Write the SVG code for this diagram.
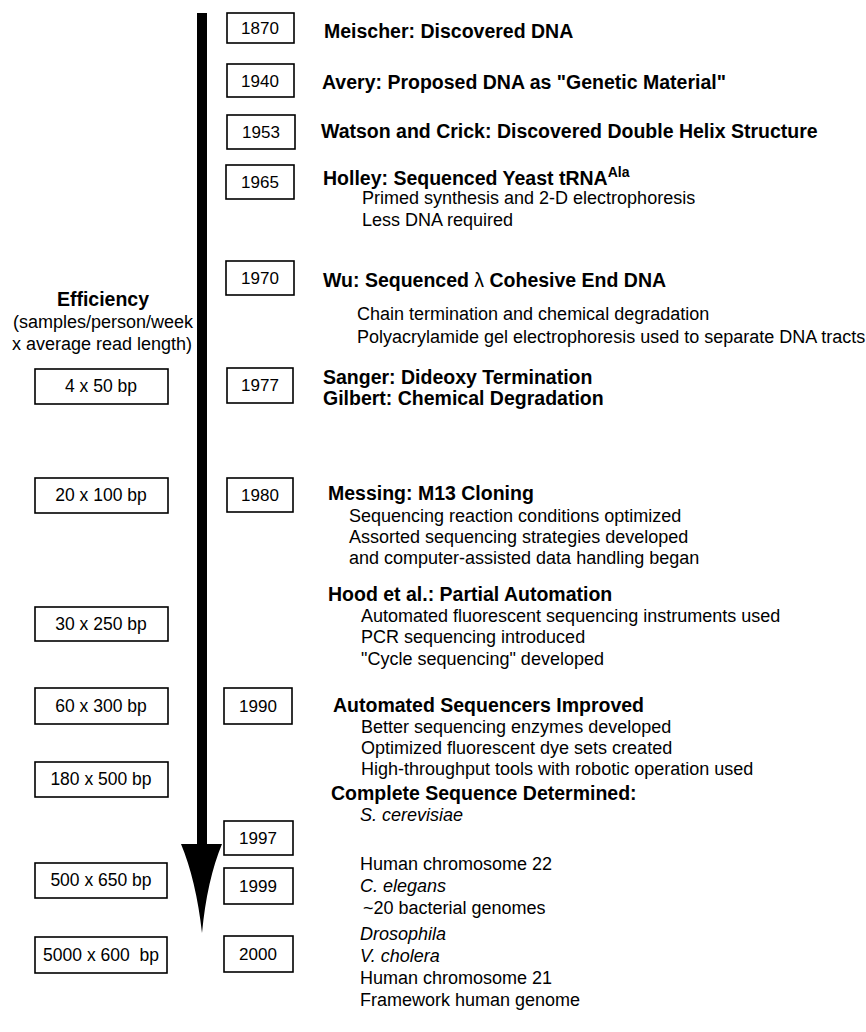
<svg xmlns="http://www.w3.org/2000/svg" width="866" height="1032" viewBox="0 0 866 1032">
<style>
.box{fill:#fff;stroke:#000;stroke-width:1.6}
.yr{font-family:"Liberation Sans",Arial,sans-serif;font-size:17px;text-anchor:middle;fill:#000}
.ef{font-family:"Liberation Sans",Arial,sans-serif;font-size:17.5px;text-anchor:middle;fill:#000;white-space:pre}
.h{font-family:"Liberation Sans",Arial,sans-serif;font-size:19.5px;font-weight:bold;fill:#000}
.b{font-family:"Liberation Sans",Arial,sans-serif;font-size:18px;fill:#000}
.i{font-style:italic}
</style>
<rect width="866" height="1032" fill="#fff"/>
<g id="connectors">
<rect x="197" y="13" width="10" height="834" fill="#000"/>
<path d="M181,844 L222,844 Q207,880 202,933 Q196,880 181,844 Z" fill="#000"/>
</g>
<g id="efficiency-label">
<text class="h" x="103" y="306" text-anchor="middle">Efficiency</text>
<text class="b" x="103" y="328" text-anchor="middle">(samples/person/week</text>
<text class="b" x="102" y="350" text-anchor="middle">x average read length)</text>
</g>
<g id="eff-4x50"><rect class="box" x="35" y="369" width="133" height="35"/><text class="ef" x="101" y="392">4 x 50 bp</text></g>
<g id="eff-20x100"><rect class="box" x="35" y="478" width="133" height="35"/><text class="ef" x="101" y="501">20 x 100 bp</text></g>
<g id="eff-30x250"><rect class="box" x="35" y="607" width="133" height="34"/><text class="ef" x="101" y="630">30 x 250 bp</text></g>
<g id="eff-60x300"><rect class="box" x="35" y="688" width="133" height="36"/><text class="ef" x="101" y="712">60 x 300 bp</text></g>
<g id="eff-180x500"><rect class="box" x="35" y="762" width="133" height="35"/><text class="ef" x="101" y="785">180 x 500 bp</text></g>
<g id="eff-500x650"><rect class="box" x="35" y="863" width="132" height="35"/><text class="ef" x="101" y="886">500 x 650 bp</text></g>
<g id="eff-5000x600"><rect class="box" x="35" y="937" width="132" height="36"/><text class="ef" x="101" y="961">5000 x 600  bp</text></g>
<g id="y1870"><rect class="box" x="227" y="13" width="67" height="30"/><text class="yr" x="260" y="34">1870</text></g>
<g id="y1940"><rect class="box" x="227" y="64" width="67" height="33"/><text class="yr" x="260" y="87">1940</text></g>
<g id="y1953"><rect class="box" x="227" y="115" width="68" height="34"/><text class="yr" x="261" y="138">1953</text></g>
<g id="y1965"><rect class="box" x="226" y="165" width="68" height="34"/><text class="yr" x="260" y="188">1965</text></g>
<g id="y1970"><rect class="box" x="226" y="261" width="68" height="34"/><text class="yr" x="260" y="284">1970</text></g>
<g id="y1977"><rect class="box" x="227" y="368" width="66" height="35"/><text class="yr" x="260" y="391">1977</text></g>
<g id="y1980"><rect class="box" x="227" y="478" width="66" height="34"/><text class="yr" x="260" y="501">1980</text></g>
<g id="y1990"><rect class="box" x="224" y="688" width="68" height="36"/><text class="yr" x="258" y="712">1990</text></g>
<g id="y1997"><rect class="box" x="224" y="821" width="69" height="34"/><text class="yr" x="258" y="844">1997</text></g>
<g id="y1999"><rect class="box" x="224" y="868" width="69" height="36"/><text class="yr" x="258" y="892">1999</text></g>
<g id="y2000"><rect class="box" x="224" y="936" width="69" height="36"/><text class="yr" x="258" y="960">2000</text></g>
<g id="ev-meischer"><text class="h" x="324" y="38">Meischer: Discovered DNA</text></g>
<g id="ev-avery"><text class="h" x="322" y="89">Avery: Proposed DNA as "Genetic Material"</text></g>
<g id="ev-watson"><text class="h" x="321" y="138">Watson and Crick: Discovered Double Helix Structure</text></g>
<g id="ev-holley">
<text class="h" x="323" y="185">Holley: Sequenced Yeast tRNA<tspan font-size="14" dy="-8">Ala</tspan></text>
<text class="b" x="362" y="204">Primed synthesis and 2-D electrophoresis</text>
<text class="b" x="362" y="226">Less DNA required</text>
</g>
<g id="ev-wu">
<text class="h" x="323" y="287">Wu: Sequenced <tspan font-weight="normal">λ</tspan> Cohesive End DNA</text>
<text class="b" x="357" y="320">Chain termination and chemical degradation</text>
<text class="b" x="357" y="343">Polyacrylamide gel electrophoresis used to separate DNA tracts</text>
</g>
<g id="ev-sanger">
<text class="h" x="323" y="384">Sanger: Dideoxy Termination</text>
<text class="h" x="323" y="405">Gilbert: Chemical Degradation</text>
</g>
<g id="ev-messing">
<text class="h" x="328" y="500">Messing: M13 Cloning</text>
<text class="b" x="349" y="522">Sequencing reaction conditions optimized</text>
<text class="b" x="349" y="543">Assorted sequencing strategies developed</text>
<text class="b" x="349" y="564">and computer-assisted data handling began</text>
</g>
<g id="ev-hood">
<text class="h" x="328" y="601">Hood et al.: Partial Automation</text>
<text class="b" x="361" y="622">Automated fluorescent sequencing instruments used</text>
<text class="b" x="361" y="643">PCR sequencing introduced</text>
<text class="b" x="361" y="665">"Cycle sequencing" developed</text>
</g>
<g id="ev-automated">
<text class="h" x="333" y="712">Automated Sequencers Improved</text>
<text class="b" x="361" y="733">Better sequencing enzymes developed</text>
<text class="b" x="361" y="754">Optimized fluorescent dye sets created</text>
<text class="b" x="361" y="775">High-throughput tools with robotic operation used</text>
</g>
<g id="ev-complete">
<text class="h" x="331" y="800">Complete Sequence Determined:</text>
<text class="b i" x="360" y="821">S. cerevisiae</text>
<text class="b" x="360" y="870">Human chromosome 22</text>
<text class="b i" x="360" y="892">C. elegans</text>
<text class="b" x="363" y="914">~20 bacterial genomes</text>
<text class="b i" x="360" y="940">Drosophila</text>
<text class="b i" x="360" y="962">V. cholera</text>
<text class="b" x="360" y="984">Human chromosome 21</text>
<text class="b" x="360" y="1006">Framework human genome</text>
</g>
</svg>
